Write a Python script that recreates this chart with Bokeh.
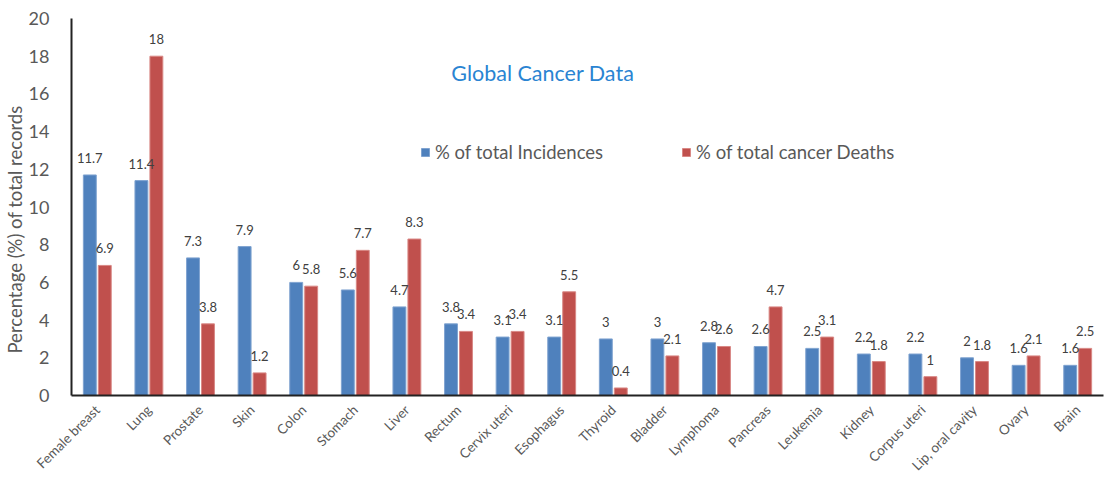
from bokeh.plotting import figure
from bokeh.models import (ColumnDataSource, FactorRange, Range1d, FixedTicker,
                          Legend, LegendItem, Label, Title)
from bokeh.transform import dodge
from bokeh.core.properties import value
from bokeh.embed import file_html
from bokeh.resources import INLINE
import math

# Cancer sites and their shares of global incidence and mortality (%)
sites = ["Female breast", "Lung", "Prostate", "Skin", "Colon", "Stomach", "Liver",
         "Rectum", "Cervix uteri", "Esophagus", "Thyroid", "Bladder", "Lymphoma",
         "Pancreas", "Leukemia", "Kidney", "Corpus uteri", "Lip, oral cavity",
         "Ovary", "Brain"]
incidences = [11.7, 11.4, 7.3, 7.9, 6, 5.6, 4.7, 3.8, 3.1, 3.1, 3, 3, 2.8, 2.6,
              2.5, 2.2, 2.2, 2, 1.6, 1.6]
deaths = [6.9, 18, 3.8, 1.2, 5.8, 7.7, 8.3, 3.4, 3.4, 5.5, 0.4, 2.1, 2.6, 4.7,
          3.1, 1.8, 1, 1.8, 2.1, 2.5]
y_ticks = [0, 2, 4, 6, 8, 10, 12, 14, 16, 18, 20]

FONT = "Lato"
BLUE = "#4F81BD"
RED = "#C0504D"
GREY = "#595959"


def fmt(v):
    return f"{v:g}"


src = ColumnDataSource(dict(
    site=sites,
    inc=incidences,
    dth=deaths,
    inc_lbl=[fmt(v) for v in incidences],
    dth_lbl=[fmt(v) for v in deaths],
))

p = figure(width=1104, height=482, x_range=FactorRange(*sites),
           y_range=Range1d(0, 20), output_backend="svg", toolbar_location=None,
           min_border_left=71, min_border_right=1, min_border_top=18,
           min_border_bottom=87)
p.outline_line_color = None
p.background_fill_color = "white"
p.border_fill_color = "white"
p.grid.visible = False

off = 0.145
bw = 0.25
r_inc = p.vbar(x=dodge("site", -off, range=p.x_range), top="inc", width=bw,
               source=src, fill_color=BLUE, line_color="#7FA3D0", line_width=1)
r_dth = p.vbar(x=dodge("site", off, range=p.x_range), top="dth", width=bw,
               source=src, fill_color=RED, line_color="#D98885", line_width=1)

# value labels above each bar
for col, lbl, dx in (("inc", "inc_lbl", -off), ("dth", "dth_lbl", off)):
    p.text(x=dodge("site", dx, range=p.x_range), y=col, text=lbl, source=src,
           text_font=value(FONT), text_font_size="13px", text_color="#404040",
           text_align="center", text_baseline="bottom", y_offset=-12)

# axes
p.yaxis.ticker = FixedTicker(ticks=y_ticks)
p.yaxis.major_label_text_font = FONT
p.yaxis.major_label_text_font_size = "18px"
p.yaxis.major_label_text_color = GREY
p.yaxis.major_label_standoff = 16
p.yaxis.major_tick_line_color = None
p.yaxis.minor_tick_line_color = None
p.yaxis.axis_line_color = "#222222"
p.yaxis.axis_line_width = 2

p.xaxis.major_label_orientation = math.pi / 4
p.xaxis.major_label_text_font = FONT
p.xaxis.major_label_text_font_size = "13.5px"
p.xaxis.major_label_text_color = GREY
p.xaxis.major_label_standoff = 6
p.xaxis.major_tick_line_color = None
p.xaxis.axis_line_color = "#222222"
p.xaxis.axis_line_width = 2

# vertical axis title in the left panel, starting a little above the x axis
p.add_layout(Title(text="Percentage (%) of total records", align="left",
                   offset=42, standoff=0, text_font=FONT,
                   text_font_size="18.5px", text_font_style="normal",
                   text_color=GREY), "left")

# chart title inside plotting area
p.add_layout(Label(x=7.36, y=17.1, x_units="data", y_units="data",
                   text="Global Cancer Data", text_font=FONT,
                   text_font_size="21.5px", text_color="#2A84D2",
                   text_baseline="middle"))

legend = Legend(items=[LegendItem(label="% of total Incidences", renderers=[r_inc]),
                       LegendItem(label="% of total cancer Deaths", renderers=[r_dth])],
                orientation="horizontal", location=(349, 232),
                glyph_width=10, glyph_height=10, spacing=78, label_standoff=5,
                label_text_font=FONT, label_text_font_size="18.5px",
                label_text_color=GREY, border_line_color=None,
                background_fill_alpha=0, padding=0, margin=0)
p.add_layout(legend)

open("out.html", "w").write(file_html(p, INLINE))
